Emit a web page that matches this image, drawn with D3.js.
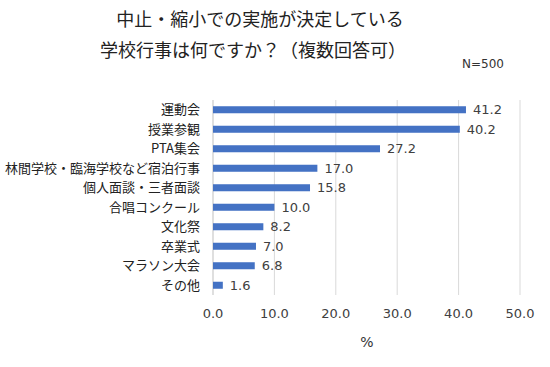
<!DOCTYPE html>
<html><head><meta charset="utf-8">
<script src="https://cdn.jsdelivr.net/npm/d3@7"></script>
<style>body{margin:0;background:#fff}svg{display:block}</style>
</head><body>
<svg id="c" width="550" height="367"></svg>
<script>
const categories = ["運動会","授業参観","PTA集会","林間学校・臨海学校など宿泊行事","個人面談・三者面談","合唱コンクール","文化祭","卒業式","マラソン大会","その他"];
const values = [41.2,40.2,27.2,17.0,15.8,10.0,8.2,7.0,6.8,1.6];
const ticks = [0,10,20,30,40,50];
const titleLines = ["中止・縮小での実施が決定している","学校行事は何ですか？（複数回答可）"];

const svg = d3.select("#c");
const font = "'Noto Sans CJK JP','Noto Sans',sans-serif";
const numFont = "'DejaVu Sans',Verdana,sans-serif";
const x = d3.scaleLinear().domain([0,50]).range([213,520]);
const y = d3.scaleBand().domain(categories).range([100,295]).paddingInner(0.64).paddingOuter(0.32);

svg.append("g").selectAll("line").data(ticks.slice(1)).join("line")
  .attr("x1",d=>x(d)).attr("x2",d=>x(d)).attr("y1",100).attr("y2",295)
  .attr("stroke","#d9d9d9").attr("stroke-width",1);
svg.append("line").attr("x1",x(0)).attr("x2",x(0)).attr("y1",100).attr("y2",295)
  .attr("stroke","#bfbfbf");

svg.append("g").selectAll("rect").data(values).join("rect")
  .attr("x",x(0)).attr("y",(d,i)=>y(categories[i]))
  .attr("width",d=>x(d)-x(0)).attr("height",y.bandwidth())
  .attr("fill","#4472c4");

svg.append("g").selectAll("text").data(values).join("text")
  .attr("x",d=>x(d)+7).attr("y",(d,i)=>y(categories[i])+y.bandwidth()/2)
  .attr("dy","0.36em").attr("font-family",numFont).attr("font-size",13).attr("fill","#404040")
  .text(d=>d.toFixed(1));

svg.append("g").selectAll("text").data(categories).join("text")
  .attr("x",200).attr("y",d=>y(d)+y.bandwidth()/2).attr("dy","0.36em")
  .attr("text-anchor","end").attr("font-family",font).attr("font-size",13).attr("fill","#222")
  .text(d=>d);

svg.append("g").selectAll("text").data(ticks).join("text")
  .attr("x",d=>x(d)).attr("y",313).attr("dy","0.36em").attr("text-anchor","middle")
  .attr("font-family",numFont).attr("font-size",13).attr("fill","#404040")
  .text(d=>d.toFixed(1));

svg.append("text").attr("x",367).attr("y",342).attr("dy","0.36em").attr("text-anchor","middle")
  .attr("font-family",numFont).attr("font-size",14).attr("fill","#333").text("%");

svg.selectAll(".t").data(titleLines).join("text").attr("class","t")
  .attr("x",(d,i)=>i?253:260).attr("y",(d,i)=>i?51:20).attr("dy","0.36em").attr("text-anchor","middle")
  .attr("font-family",font).attr("font-size",18).attr("fill","#222").text(d=>d);

svg.append("text").attr("x",504).attr("y",64).attr("dy","0.36em").attr("text-anchor","end")
  .attr("font-family",numFont).attr("font-size",12).attr("fill","#333").text("N=500");
</script>
</body></html>
